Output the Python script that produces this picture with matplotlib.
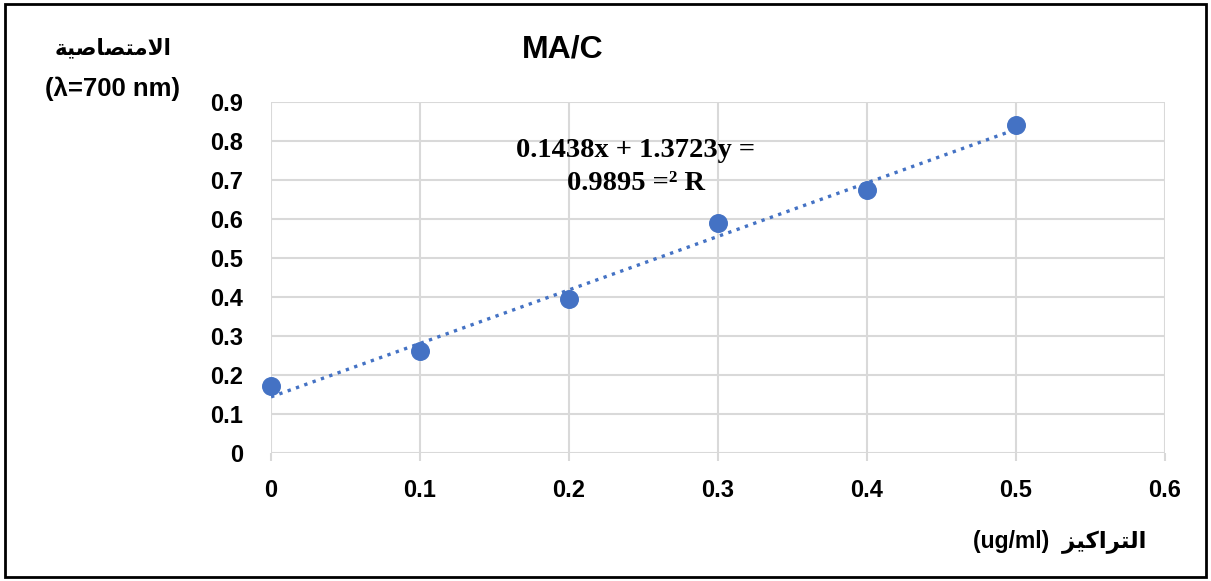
import matplotlib
matplotlib.use("Agg")
import matplotlib.pyplot as plt
from matplotlib.patches import Rectangle

# concentration (ug/ml) and absorbance at 700 nm
conc = [0, 0.1, 0.2, 0.3, 0.4, 0.5]
absorb = [0.172, 0.262, 0.394, 0.590, 0.674, 0.841]

# linear trendline
slope = 1.3723
intercept = 0.1438
r2 = 0.9895

x_ticks = [0, 0.1, 0.2, 0.3, 0.4, 0.5, 0.6]
y_ticks = [0, 0.1, 0.2, 0.3, 0.4, 0.5, 0.6, 0.7, 0.8, 0.9]

# arabic letters -> (isolated, final, initial, medial)
FORMS = {
    "ا": ("\ufe8d", "\ufe8e", None, None),
    "ت": ("\ufe95", "\ufe96", "\ufe97", "\ufe98"),
    "ة": ("\ufe93", "\ufe94", None, None),
    "ر": ("\ufead", "\ufeae", None, None),
    "ز": ("\ufeaf", "\ufeb0", None, None),
    "ص": ("\ufeb9", "\ufeba", "\ufebb", "\ufebc"),
    "ك": ("\ufed9", "\ufeda", "\ufedb", "\ufedc"),
    "ل": ("\ufedd", "\ufede", "\ufedf", "\ufee0"),
    "م": ("\ufee1", "\ufee2", "\ufee3", "\ufee4"),
    "ي": ("\ufef1", "\ufef2", "\ufef3", "\ufef4"),
    "لا": ("\ufefb", "\ufefc", None, None),
}


def shape(word):
    # split into letters, merging lam-alef
    letters = []
    i = 0
    while i < len(word):
        if word[i:i + 2] == "لا":
            letters.append("لا")
            i += 2
        else:
            letters.append(word[i])
            i += 1
    out = []
    for i, ch in enumerate(letters):
        prev_joins = i > 0 and FORMS[letters[i - 1]][2] is not None
        next_ok = i < len(letters) - 1 and FORMS[ch][2] is not None
        iso, fin, ini, med = FORMS[ch]
        if prev_joins and next_ok:
            out.append(med)
        elif prev_joins:
            out.append(fin)
        elif next_ok:
            out.append(ini)
        else:
            out.append(iso)
    return "".join(reversed(out))


blue = "#4472C4"
grid_c = "#D9D9D9"
plt.rcParams["font.family"] = ["Liberation Sans", "DejaVu Sans"]

fig = plt.figure(figsize=(12.11, 5.81), dpi=100)
ax = fig.add_axes([0.2238, 0.2203, 0.7382, 0.6041])

ax.scatter(conc, absorb, s=160, color=blue, zorder=3, clip_on=False)
xs = [conc[0], conc[-1]]
ax.plot(xs, [slope * x + intercept for x in xs], ":", color=blue, lw=2.4, zorder=2)

ax.set_xlim(0, 0.6)
ax.set_ylim(0, 0.9)
ax.set_xticks(x_ticks)
ax.set_yticks(y_ticks)
ax.set_xticklabels([f"{v:g}" for v in x_ticks], fontsize=17, fontweight="bold")
ax.set_yticklabels([f"{v:g}" for v in y_ticks], fontsize=17, fontweight="bold")
ax.tick_params(axis="x", length=6, width=1.5, color=grid_c, pad=13)
ax.tick_params(axis="y", length=0, pad=20)
ax.grid(True, color=grid_c, lw=1.5)
ax.set_axisbelow(True)
for s in ax.spines.values():
    s.set_visible(False)

fig.text(0.465, 0.914, "MA/C", fontsize=23, fontweight="bold", ha="center", va="center")

ax.text(0.245, 0.733, f"{intercept}x + {slope}y =\n{r2} =² R", family="Liberation Serif",
        fontsize=20.5, fontweight="bold", ha="center", va="center", linespacing=1.45)

fig.text(0.093, 0.918, shape("الامتصاصية"), family=["DejaVu Sans"], fontsize=15.5,
         fontweight="bold", ha="center", va="center")
fig.text(0.093, 0.848, "(λ=700 nm)", family=["Liberation Sans", "DejaVu Sans"], fontsize=18.5,
         fontweight="bold", ha="center", va="center")
fig.text(0.875, 0.068, "(ug/ml)  " + shape("التراكيز"), family=["Liberation Sans", "DejaVu Sans"],
         fontsize=16.5, fontweight="bold", ha="center", va="center")

fig.patches.append(Rectangle((0.004, 0.007), 0.992, 0.986, transform=fig.transFigure,
                             fill=False, edgecolor="black", lw=2))

fig.savefig("out.png", dpi=100)
